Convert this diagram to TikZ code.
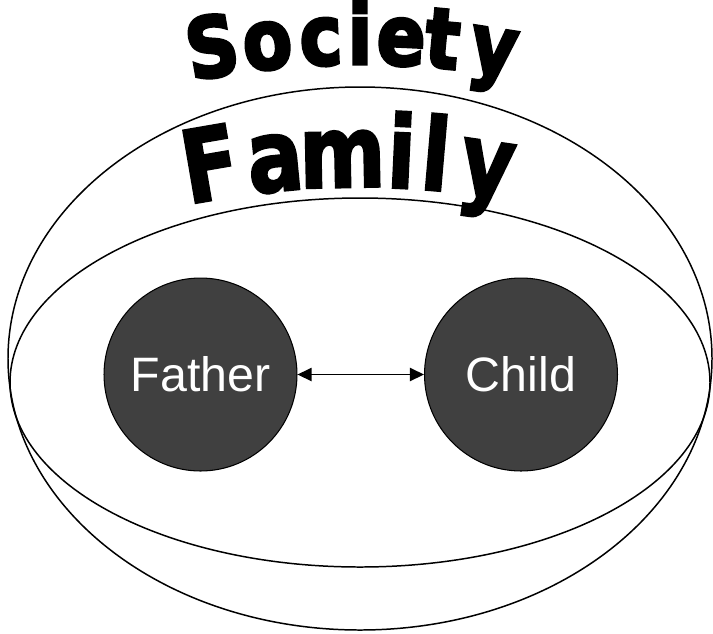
\documentclass[tikz,border=0pt]{standalone}
\usepackage{fontspec}
\usepackage{graphicx}
\usepackage{tikz}
\usetikzlibrary{positioning,arrows.meta}
\newfontfamily\labelfont{Liberation Sans}
\newfontfamily\societyfont[BoldFeatures={FakeBold=4}]{DejaVu Sans}
\newfontfamily\familyfont[BoldFeatures={FakeBold=2.5}]{DejaVu Sans}

\begin{document}
\begin{tikzpicture}[x=0.02cm,y=-0.02cm,
    person/.style={circle,draw=black,line width=0.6pt,fill=black!75,
      minimum size=3.86cm,inner sep=0pt,text=white,
      font=\labelfont\fontsize{27.5}{30}\selectfont},
    letter/.style={anchor=base,inner sep=0pt,text=black}]
  \useasboundingbox (0,0) rectangle (713,633);
  % the two groups
  \draw[line width=0.85pt] (360,358.5) ellipse [x radius=352,y radius=271.5];
  \draw[line width=0.85pt] (360,382.5) ellipse [x radius=350,y radius=184.5];
  % arched titles
  \foreach \ch/\px [count=\k] in {S/217,o/270,c/322,i/360,e/400,t/440,y/490}
    \node[letter,font=\societyfont\bfseries\fontsize{43}{46}\selectfont,
      rotate={-asin((\px-360)/850)}] (soc\k)
      at ({\px},{914-850*cos(asin((\px-360)/850))}) {\scalebox{0.95}[1.1]{\ch}};
  \foreach \ch/\px [count=\k] in {F/216,a/278,m/343,i/400,l/433,y/483}
    \node[letter,font=\familyfont\bfseries\fontsize{56}{60}\selectfont,
      rotate={-asin((\px-360)/850)}] (fam\k)
      at ({\px},{1037-850*cos(asin((\px-360)/850))}) {\scalebox{0.84}[1.02]{\ch}};
  % members
  \node[person] (father) at (200.5,374.5) {Father};
  \node[person] (child) at (521,374.5) {Child};
  \draw[{Triangle[length=8pt,width=7.5pt]}-{Triangle[length=8pt,width=7.5pt]},
    line width=0.85pt] (father) -- (child);
\end{tikzpicture}
\end{document}
